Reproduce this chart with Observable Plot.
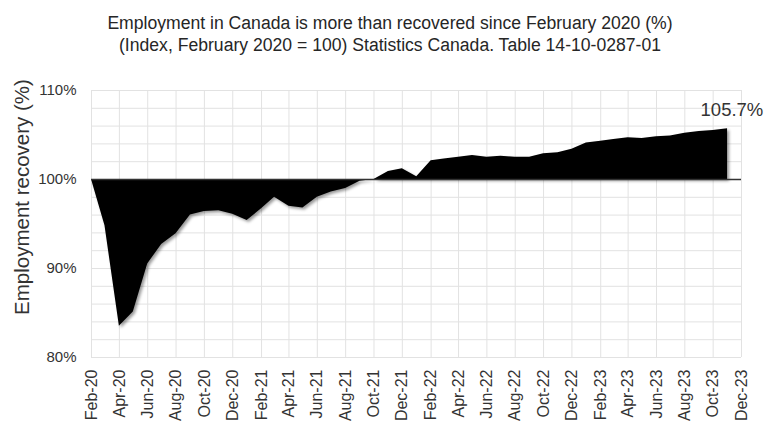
<!DOCTYPE html>
<html>
<head>
<meta charset="utf-8">
<script src="https://cdn.jsdelivr.net/npm/d3@7"></script>
<script src="https://cdn.jsdelivr.net/npm/@observablehq/plot@0.6"></script>
<style>
  html, body { margin: 0; padding: 0; background: #fff; }
  body { width: 764px; height: 426px; overflow: hidden; font-family: "Liberation Sans", Arial, sans-serif; }
  #title { box-sizing: border-box; height: 60px; padding-top: 12px; text-align: center; font-size: 17.6px; line-height: 22px; color: #262626; padding-left: 16px; }
</style>
</head>
<body>
<div id="title">Employment in Canada is more than recovered since February 2020 (%)<br>(Index, February 2020 = 100) Statistics Canada. Table 14-10-0287-01</div>
<div id="chart"></div>
<script>
// Categories: first month of the series (monthly data, Feb 2020 – Nov 2023)
const startMonth = "Feb-20";
// Employment index, February 2020 = 100 (monthly, Feb 2020 .. Nov 2023)
const values = [
  100.0, 94.8, 83.5, 85.1, 90.5, 92.7, 93.9, 96.0, 96.4, 96.5, 96.1,
  95.4, 96.7, 98.0, 97.0, 96.8, 98.0, 98.6, 99.0, 99.8, 100.0, 100.9, 101.2,
  100.3, 102.1, 102.3, 102.5, 102.7, 102.5, 102.6, 102.5, 102.5, 102.9, 103.0, 103.4,
  104.1, 104.3, 104.5, 104.7, 104.6, 104.8, 104.9, 105.2, 105.4, 105.5, 105.7
];
const xTickLabels = ["Feb-20","Apr-20","Jun-20","Aug-20","Oct-20","Dec-20",
  "Feb-21","Apr-21","Jun-21","Aug-21","Oct-21","Dec-21",
  "Feb-22","Apr-22","Jun-22","Aug-22","Oct-22","Dec-22",
  "Feb-23","Apr-23","Jun-23","Aug-23","Oct-23","Dec-23"];
const yTicks = [80, 90, 100, 110];
const yGrid = [80, 82, 84, 86, 88, 90, 92, 94, 96, 98, 100, 102, 104, 106, 108, 110];
const baseline = 100;
const endLabel = "105.7%";
const yLabel = "Employment recovery (%)";

const parse = d3.utcParse("%b-%y");
const fmt = d3.utcFormat("%b-%y");
const start = parse(startMonth);
const data = values.map((v, i) => ({date: d3.utcMonth.offset(start, i), value: v}));
const tickDates = xTickLabels.map(parse);
const last = data[data.length - 1];

const font = "'Liberation Sans', Arial, sans-serif";

const chart = Plot.plot({
  width: 764,
  height: 366,
  marginTop: 30,
  marginBottom: 69,
  marginLeft: 91,
  marginRight: 23,
  style: {fontFamily: font, fontSize: "15px", color: "#333", background: "#fff", overflow: "visible"},
  x: {type: "utc", domain: [tickDates[0], tickDates[tickDates.length - 1]]},
  y: {domain: [80, 110]},
  marks: [
    Plot.ruleY(yGrid, {stroke: "#e2e2e2", strokeWidth: 1}),
    Plot.ruleX(tickDates, {stroke: "#e2e2e2", strokeWidth: 1}),
    Plot.areaY(data, {x: "date", y1: baseline, y2: "value", fill: "#000", curve: "linear"}),
    Plot.ruleY([baseline], {stroke: "#333", strokeWidth: 1.5}),
    Plot.axisY({ticks: yTicks, tickFormat: d => d + "%", tickSize: 0, tickPadding: 15, fontSize: 15, fill: "#333", label: null}),
    Plot.axisX({ticks: tickDates, tickFormat: fmt, tickRotate: -90, tickSize: 0, tickPadding: 12, fontSize: 16, fill: "#333", label: null}),
    Plot.text([last], {x: "date", y: "value", text: () => endLabel, textAnchor: "start", lineAnchor: "bottom", dx: -27, dy: -13, fontSize: 18.5, fill: "#333"}),
    Plot.text([yLabel], {frameAnchor: "left", text: d => d, rotate: -90, textAnchor: "middle", lineAnchor: "middle", dx: -69, dy: -27, fontSize: 20.5, fill: "#333"})
  ]
});

const areaG = chart.querySelector('g[aria-label="area"]');
if (areaG) areaG.style.filter = "drop-shadow(2px 2px 1.5px rgba(0,0,0,0.4))";

document.getElementById("chart").appendChild(chart);
</script>
</body>
</html>
